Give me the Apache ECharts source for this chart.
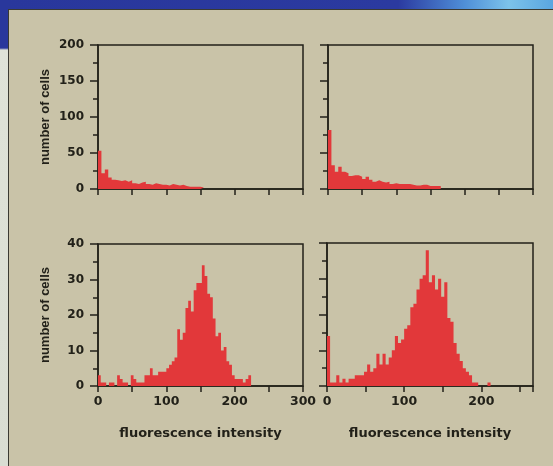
<!DOCTYPE html>
<html>
<head>
<meta charset="utf-8">
<script src="https://cdn.jsdelivr.net/npm/echarts@6/dist/echarts.min.js"></script>
<style>
  html, body { margin: 0; padding: 0; }
  .page { position: relative; width: 553px; height: 466px; overflow: hidden; background: #c9c3a8; }
  .topband { position: absolute; left: 0; top: 0; width: 553px; height: 9px;
    background: linear-gradient(90deg, #29379c 0%, #2b3aa0 72%, #4f8fd8 84%, #7cc3ea 92%, #5aa6e0 100%); }
  .leftband { position: absolute; left: 0; top: 0; width: 8px; height: 466px;
    background: linear-gradient(180deg, #29379c 0, #29379c 48px, #dfe3d8 50px, #d9ddd2 100%); }
  .panel { position: absolute; left: 8px; top: 9px; right: 0; bottom: 0;
    border-left: 1px solid #3a3a32; border-top: 1px solid #3a3a32; background: #c9c3a8; }
  #chart { position: absolute; left: 0; top: 0; width: 553px; height: 466px; }
</style>
</head>
<body>
<div class="page">
  <div class="topband"></div>
  <div class="leftband"></div>
  <div class="panel"></div>
  <div id="chart"></div>
</div>
<script>
// histogram counts per bin
const topLeftBin = 5
const topLeftCounts = [53, 22, 27, 16, 13, 12, 11, 12, 10, 12, 8, 7, 9, 10, 7, 6, 8, 7, 6, 6, 5, 7, 6, 5, 6, 4, 3, 3, 3, 3, 2]

const topRightBin = 5
const topRightCounts = [82, 33, 24, 31, 24, 22, 18, 19, 19, 17, 14, 17, 13, 10, 12, 10, 9, 10, 7, 8, 7, 7, 7, 7, 6, 5, 5, 6, 6, 4, 4, 4, 4]

const bottomLeftBin = 4
const bottomLeftCounts = [3, 1, 1, 0, 1, 1, 0, 3, 2, 1, 1, 0, 3, 2, 1, 1, 1, 3, 3, 5, 3, 3, 4, 4, 4, 5, 6, 7, 8,
  16, 13, 15, 22, 24, 21, 27, 29, 29, 34, 31, 26, 25, 19, 14, 15, 10, 11, 7, 6, 3, 2, 2, 2, 1, 2, 3]

const bottomRightBin = 4
const bottomRightCounts = [14, 1, 1, 3, 1, 2, 1, 2, 2, 3, 3, 3, 4, 6, 4, 5, 9, 6, 9, 6, 8, 10, 14, 12, 13,
  16, 17, 22, 23, 27, 30, 31, 38, 29, 31, 27, 30, 25, 29, 19, 18, 12, 9, 7, 5, 4, 3, 1, 1, 0, 0, 0, 1, 0]

const xMaxLeft = 300
const xMaxTopRight = 300
const xMaxBottomRight = 267
const yMaxTop = 200
const yMaxBottom = 40

const ink = '#222119'
const red = '#e2383a'

// bin left edges + closing point, drawn as a step area
function steps (counts, bin) {
  const pts = counts.map((c, i) => [i * bin, c])
  pts.push([counts.length * bin, 0])
  return pts
}

const chart = echarts.init(document.getElementById('chart'))

function xAxis (grid, max, labels, name) {
  return {
    type: 'value',
    gridIndex: grid,
    min: 0,
    max: max,
    interval: 50,
    name: name || '',
    nameLocation: 'middle',
    nameGap: 41,
    nameTextStyle: { fontFamily: 'DejaVu Sans', fontWeight: 'bold', fontSize: 13, color: ink },
    axisLine: { show: true, lineStyle: { color: ink, width: 1.5 } },
    axisTick: { show: true, length: 6, lineStyle: { color: ink, width: 1.5 } },
    axisLabel: {
      show: labels,
      margin: 9,
      fontFamily: 'DejaVu Sans',
      fontWeight: 'bold',
      fontSize: 12.5,
      color: ink,
      showMaxLabel: true,
      formatter: v => (v % 100 === 0 ? String(v) : '')
    },
    splitLine: { show: false }
  }
}

function yAxis (grid, max, step, labels) {
  return {
    type: 'value',
    gridIndex: grid,
    min: 0,
    max: max,
    interval: step,
    name: labels ? 'number of cells' : '',
    nameLocation: 'middle',
    nameRotate: 90,
    nameGap: 46,
    nameTextStyle: { fontFamily: 'Liberation Sans', fontWeight: 'bold', fontSize: 13, color: ink },
    axisLine: { show: true, lineStyle: { color: ink, width: 1.5 } },
    axisTick: { show: true, length: 8, lineStyle: { color: ink, width: 1.5 } },
    minorTick: { show: true, splitNumber: 2, length: 5, lineStyle: { color: ink, width: 1.5 } },
    axisLabel: {
      show: labels,
      margin: 14,
      fontFamily: 'DejaVu Sans',
      fontWeight: 'bold',
      fontSize: 12,
      color: ink
    },
    splitLine: { show: false },
    minorSplitLine: { show: false }
  }
}

function hist (i, data) {
  return {
    type: 'line',
    xAxisIndex: i,
    yAxisIndex: i,
    step: 'end',
    symbol: 'none',
    silent: true,
    lineStyle: { width: 0 },
    areaStyle: { color: red, opacity: 1 },
    data: data
  }
}

const frame = { show: true, borderColor: ink, borderWidth: 1.5, backgroundColor: 'transparent' }

const option = {
  animation: false,
  grid: [
    Object.assign({ left: 98, top: 45, width: 205, height: 144 }, frame),
    Object.assign({ left: 328, top: 45, width: 205, height: 144 }, frame),
    Object.assign({ left: 98, top: 244, width: 205, height: 142 }, frame),
    Object.assign({ left: 327, top: 243, width: 206, height: 143 }, frame)
  ],
  xAxis: [
    xAxis(0, xMaxLeft, false),
    xAxis(1, xMaxTopRight, false),
    xAxis(2, xMaxLeft, true, 'fluorescence intensity'),
    xAxis(3, xMaxBottomRight, true, 'fluorescence intensity')
  ],
  yAxis: [
    yAxis(0, yMaxTop, 50, true),
    yAxis(1, yMaxTop, 50, false),
    yAxis(2, yMaxBottom, 10, true),
    yAxis(3, yMaxBottom, 10, false)
  ],
  series: [
    hist(0, steps(topLeftCounts, topLeftBin)),
    hist(1, steps(topRightCounts, topRightBin)),
    hist(2, steps(bottomLeftCounts, bottomLeftBin)),
    hist(3, steps(bottomRightCounts, bottomRightBin))
  ]
}

chart.setOption(option)
</script>
</body>
</html>
